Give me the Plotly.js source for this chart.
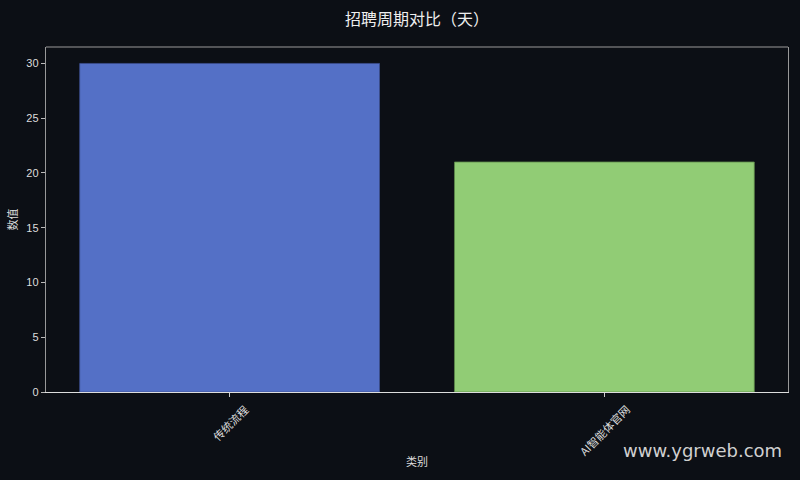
<!DOCTYPE html>
<html>
<head>
<meta charset="utf-8">
<script src="https://cdn.plot.ly/plotly-3.0.1.min.js"></script>
<style>
  html, body { margin: 0; padding: 0; background: #0c0f15; }
  #chart { width: 800px; height: 480px; }
</style>
</head>
<body>
<div id="chart"></div>
<script>
// categories and recruitment cycle (days)
var categories = ["传统流程", "AI智能体官网"];
var days = [30, 21];
var barColors = ["#5470c6", "#91cc75"];
var barEdges = ["#3d4f8f", "#5e8a4a"];
var yTicks = [0, 5, 10, 15, 20, 25, 30];

var cjk = "Noto Sans CJK SC, sans-serif";
var latin = "Liberation Sans, Arial, sans-serif";

var trace = {
  type: "bar",
  x: categories,
  y: days,
  width: 0.8,
  marker: { color: barColors, line: { color: barEdges, width: 0.8 } },
  hoverinfo: "x+y"
};

// rotated category labels centred on their ticks (matplotlib style)
var labelNotes = categories.map(function (c) {
  return {
    text: c,
    xref: "x", yref: "paper",
    x: c, y: -0.019,
    xanchor: "center", yanchor: "top",
    textangle: -45,
    showarrow: false,
    font: { family: cjk, size: 11, color: "#dddddd" }
  };
});

var layout = {
  width: 800,
  height: 480,
  paper_bgcolor: "#0c0f15",
  plot_bgcolor: "#0c0f15",
  margin: { l: 46, r: 12, t: 47, b: 88 },
  font: { family: latin, color: "#dddddd", size: 11 },
  title: {
    text: "招聘周期对比（天）",
    font: { family: cjk, size: 16, color: "#eeeeee" },
    xref: "paper", x: 0.5, xanchor: "center",
    y: 0.96, yanchor: "middle"
  },
  xaxis: {
    type: "category",
    range: [-0.49, 1.49],
    ticks: "outside",
    ticklen: 4,
    tickcolor: "#cccccc",
    showticklabels: false,
    showgrid: false,
    zeroline: false,
    showline: true,
    linecolor: "#dddddd",
    linewidth: 1.2,
    title: { text: "类别", font: { size: 11, color: "#dddddd", family: cjk }, standoff: 62 }
  },
  yaxis: {
    range: [0, 31.5],
    tickvals: yTicks,
    ticks: "outside",
    ticklen: 4,
    tickcolor: "#bbbbbb",
    showgrid: false,
    zeroline: false,
    showline: true,
    mirror: true,
    linecolor: "#999999",
    linewidth: 1.2,
    tickfont: { size: 11, color: "#dddddd", family: latin },
    title: { text: "数值", font: { size: 11, color: "#dddddd", family: cjk }, standoff: 6 }
  },
  shapes: [{
    type: "line", xref: "paper", yref: "paper",
    x0: 0, x1: 1, y0: 1, y1: 1,
    line: { color: "#999999", width: 1.2 }
  }],
  annotations: labelNotes.concat([{
    text: "www.ygrweb.com",
    xref: "paper", yref: "paper",
    x: 0.9946, y: -0.169,
    xanchor: "right", yanchor: "middle",
    showarrow: false,
    font: { family: "DejaVu Sans, sans-serif", size: 18, color: "#d0d0d0" }
  }]),
  showlegend: false
};

Plotly.newPlot("chart", [trace], layout, { displayModeBar: false, staticPlot: true });
</script>
</body>
</html>
